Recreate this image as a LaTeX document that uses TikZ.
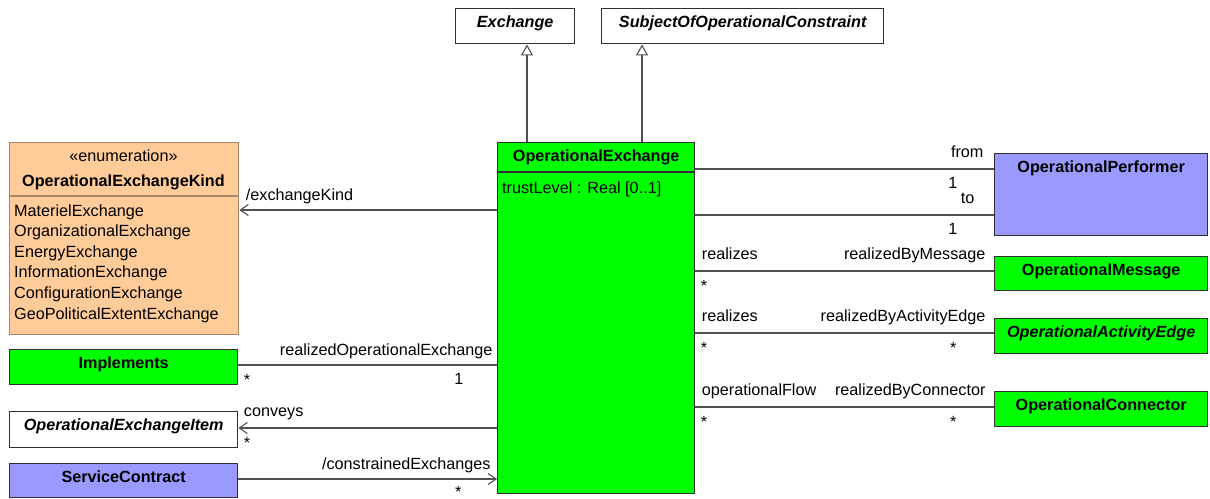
\documentclass[tikz,border=0pt]{standalone}
\usepackage{fontspec}
\setmainfont{Liberation Sans}
\usetikzlibrary{arrows.meta}
\definecolor{umlgreen}{HTML}{00FF00}
\definecolor{umlblue}{HTML}{9999FF}
\definecolor{umlpeach}{HTML}{FFCC99}
\definecolor{umlline}{HTML}{303030}
\definecolor{umlwire}{HTML}{505050}
\definecolor{enumline}{HTML}{A88868}

\tikzset{
  uml font/.style={font=\fontsize{16.2}{19}\selectfont},
  cls/.style={draw=umlline, line width=1.4pt, anchor=north west, inner sep=0pt},
  ttl/.style={uml font, inner sep=0pt, anchor=base, yshift=-19pt},
  lab/.style={uml font, inner sep=0pt},
  wire/.style={draw=umlwire, line width=1.1pt},
  gen/.style={wire, -{Triangle[open, length=11pt, width=12pt]}},
  nav/.style={wire, -{Straight Barb[length=8pt, width=11pt]}}
}

\begin{document}
\begin{tikzpicture}[x=1pt, y=-1pt]
  \useasboundingbox (0,0) rectangle (1210,498);

  % Classes, placed by their upper left corners (pixel grid).
  \node[cls, fill=white, minimum width=119pt, minimum height=35pt] (ex) at (455,8) {};
  \node[cls, fill=white, minimum width=282pt, minimum height=35pt] (subj) at (601,8) {};
  \node[cls, fill=umlgreen, minimum width=197pt, minimum height=351pt] (oe) at (497,142) {};
  \node[cls, fill=umlblue, minimum width=213pt, minimum height=82pt] (op) at (994,153) {};
  \node[cls, fill=umlgreen, minimum width=213pt, minimum height=34pt] (om) at (994,256) {};
  \node[cls, fill=umlgreen, minimum width=213pt, minimum height=35pt] (oae) at (994,318) {};
  \node[cls, fill=umlgreen, minimum width=213pt, minimum height=35pt] (oc) at (994,391) {};
  \node[cls, fill=umlpeach, draw=enumline, minimum width=229pt, minimum height=192pt] (kind) at (9,142) {};
  \node[cls, fill=umlgreen, minimum width=228pt, minimum height=35pt] (impl) at (9,349) {};
  \node[cls, fill=white, minimum width=228pt, minimum height=36pt] (item) at (9,411) {};
  \node[cls, fill=umlblue, minimum width=228pt, minimum height=34pt] (svc) at (9,463) {};

  % Names of the classes.
  \node[ttl] (ex-t) at (ex.north) {\bfseries\itshape Exchange};
  \node[ttl] (subj-t) at (subj.north) {\bfseries\itshape SubjectOfOperationalConstraint};
  \node[ttl] (oe-t) at (oe.north) {\bfseries OperationalExchange};
  \node[ttl] (op-t) at (op.north) {\bfseries OperationalPerformer};
  \node[ttl] (om-t) at (om.north) {\bfseries OperationalMessage};
  \node[ttl] (oae-t) at (oae.north) {\bfseries\itshape OperationalActivityEdge};
  \node[ttl] (oc-t) at (oc.north) {\bfseries OperationalConnector};
  \node[ttl] (impl-t) at (impl.north) {\bfseries Implements};
  \node[ttl] (item-t) at (item.north) {\bfseries\itshape OperationalExchangeItem};
  \node[ttl] (svc-t) at (svc.north) {\bfseries ServiceContract};

  % Compartments.
  \draw[umlline, line width=1.4pt] (oe.west |- 0,172) -- (oe.east |- 0,172);
  \node[lab, anchor=base west] (oe-a) at (502,193) {trustLevel : Real [0..1]};
  \draw[enumline, line width=1.4pt] (kind.west |- 0,196) -- (kind.east |- 0,196);
  \node[lab, anchor=base] (kind-s) at (123.5,161) {«enumeration»};
  \node[lab, anchor=base] (kind-t) at (123.5,186) {\bfseries OperationalExchangeKind};
  \foreach \lit [count=\i] in {MaterielExchange, OrganizationalExchange,
      EnergyExchange, InformationExchange, ConfigurationExchange,
      GeoPoliticalExtentExchange}
    \node[lab, anchor=base west] (kind-\i) at (14,{216+(\i-1)*20.6}) {\lit};

  % Generalizations.
  \draw[gen] (527,0 |- oe.north) -- (527,0 |- ex.south);
  \draw[gen] (642,0 |- oe.north) -- (642,0 |- subj.south);

  % Associations to the right.
  \draw[wire] (oe.east |- 0,169) --
    node[lab, at end, anchor=base east, xshift=-10pt, yshift=12pt] (from-r) {from}
    node[lab, at end, anchor=base east, xshift=-36pt, yshift=-19pt] (from-m) {1}
    (op.west |- 0,169);
  \draw[wire] (oe.east |- 0,215) --
    node[lab, at end, anchor=base east, xshift=-19pt, yshift=12pt] (to-r) {to}
    node[lab, at end, anchor=base east, xshift=-36pt, yshift=-19pt] (to-m) {1}
    (op.west |- 0,215);
  \draw[wire] (oe.east |- 0,271) --
    node[lab, at start, anchor=base west, xshift=6pt, yshift=12pt] (om-l) {realizes}
    node[lab, at start, anchor=base west, xshift=5pt, yshift=-20pt] (om-lm) {*}
    node[lab, at end, anchor=base east, xshift=-8pt, yshift=12pt] (om-r) {realizedByMessage}
    (om.west |- 0,271);
  \draw[wire] (oe.east |- 0,333) --
    node[lab, at start, anchor=base west, xshift=6pt, yshift=12pt] (oae-l) {realizes}
    node[lab, at start, anchor=base west, xshift=5pt, yshift=-20pt] (oae-lm) {*}
    node[lab, at end, anchor=base east, xshift=-8pt, yshift=12pt] (oae-r) {realizedByActivityEdge}
    node[lab, at end, anchor=base east, xshift=-37pt, yshift=-20pt] (oae-rm) {*}
    (oae.west |- 0,333);
  \draw[wire] (oe.east |- 0,407) --
    node[lab, at start, anchor=base west, xshift=6pt, yshift=12pt] (oc-l) {operationalFlow}
    node[lab, at start, anchor=base west, xshift=5pt, yshift=-20pt] (oc-lm) {*}
    node[lab, at end, anchor=base east, xshift=-8pt, yshift=12pt] (oc-r) {realizedByConnector}
    node[lab, at end, anchor=base east, xshift=-37pt, yshift=-20pt] (oc-rm) {*}
    (oc.west |- 0,407);

  % Associations to the left.
  \draw[nav] (oe.west |- 0,210) --
    node[lab, at end, anchor=base west, xshift=6pt, yshift=10pt] (kind-r) {/exchangeKind}
    (kind.east |- 0,210);
  \draw[wire] (oe.west |- 0,365) --
    node[lab, at start, anchor=base east, xshift=-4pt, yshift=10pt] (impl-r) {realizedOperationalExchange}
    node[lab, at start, anchor=base east, xshift=-33pt, yshift=-19pt] (impl-rm) {1}
    node[lab, at end, anchor=base west, xshift=5pt, yshift=-20pt] (impl-lm) {*}
    (impl.east |- 0,365);
  \draw[nav] (oe.west |- 0,428) --
    node[lab, at end, anchor=base west, xshift=5pt, yshift=12pt] (item-r) {conveys}
    node[lab, at end, anchor=base west, xshift=5pt, yshift=-20pt] (item-m) {*}
    (item.east |- 0,428);
  \draw[nav] (svc.east |- 0,479) --
    node[lab, at end, anchor=base east, xshift=-6pt, yshift=10pt] (svc-r) {/constrainedExchanges}
    node[lab, at end, anchor=base east, xshift=-35pt, yshift=-18pt] (svc-m) {*}
    (oe.west |- 0,479);
\end{tikzpicture}
\end{document}
